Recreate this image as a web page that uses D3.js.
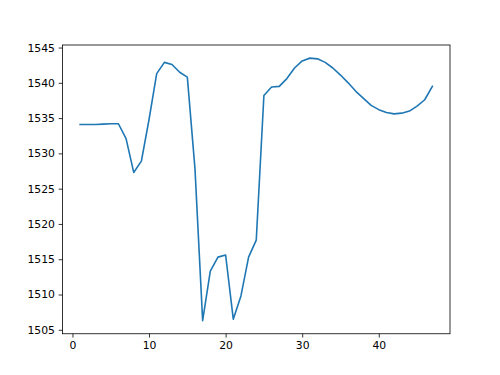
<!DOCTYPE html>
<html>
<head>
<meta charset="utf-8">
<script src="https://cdn.jsdelivr.net/npm/d3@7"></script>
<style>
  body { margin: 0; background: #fff; }
  svg text { font-family: "DejaVu Sans", sans-serif; font-size: 10.8px; fill: #000; }
</style>
</head>
<body>
<script>
// values, x = 1..47
var xs = d3.range(1, 48);
var values = [
  1534.1, 1534.1, 1534.1, 1534.15, 1534.2, 1534.2, 1532.1, 1527.3, 1528.9, 1534.8,
  1541.3, 1542.9, 1542.6, 1541.5, 1540.8, 1527.8, 1506.3, 1513.3, 1515.3, 1515.6,
  1506.5, 1509.8, 1515.3, 1517.7, 1538.2, 1539.4, 1539.5, 1540.6, 1542.1, 1543.1,
  1543.5, 1543.4, 1542.9, 1542.1, 1541.1, 1540.0, 1538.8, 1537.8, 1536.8, 1536.2,
  1535.8, 1535.6, 1535.7, 1536.0, 1536.7, 1537.6, 1539.5
];
var xTicks = [0, 10, 20, 30, 40];
var yTicks = [1505, 1510, 1515, 1520, 1525, 1530, 1535, 1540, 1545];

var w = 500, h = 375;
var margin = {top: 45, right: 50, bottom: 41.25, left: 62.5};
var iw = w - margin.left - margin.right;
var ih = h - margin.top - margin.bottom;

var data = xs.map(function(x, i) { return {x: x, y: values[i]}; });

// matplotlib style 5% padding
function pad(ext) {
  var d = (ext[1] - ext[0]) * 0.05;
  return [ext[0] - d, ext[1] + d];
}

var xScale = d3.scaleLinear().domain(pad(d3.extent(xs))).range([0, iw]);
var yScale = d3.scaleLinear().domain(pad(d3.extent(values))).range([ih, 0]);

var svg = d3.select("body").append("svg")
    .attr("width", w)
    .attr("height", h)
  .append("g")
    .attr("transform", "translate(" + margin.left + "," + margin.top + ")");

var line = d3.line()
    .x(function(d) { return xScale(d.x); })
    .y(function(d) { return yScale(d.y); });

svg.append("path")
    .datum(data)
    .attr("fill", "none")
    .attr("stroke", "#1f77b4")
    .attr("stroke-width", 1.6)
    .attr("stroke-linejoin", "round")
    .attr("stroke-linecap", "square")
    .attr("d", line);

// x axis
var xAxis = svg.append("g")
    .attr("transform", "translate(0," + ih + ")")
    .call(d3.axisBottom(xScale).tickValues(xTicks).tickFormat(d3.format("d"))
      .tickSizeInner(3.8).tickSizeOuter(0).tickPadding(3.8));

// y axis
var yAxis = svg.append("g")
    .call(d3.axisLeft(yScale).tickValues(yTicks).tickFormat(d3.format("d"))
      .tickSizeInner(3.8).tickSizeOuter(0).tickPadding(3.8));

svg.selectAll(".domain").remove();
svg.selectAll(".tick line").attr("stroke", "#000").attr("stroke-width", 0.8);
xAxis.attr("font-size", null).attr("font-family", null);
yAxis.attr("font-size", null).attr("font-family", null);

// frame
svg.append("rect")
    .attr("width", iw)
    .attr("height", ih)
    .attr("fill", "none")
    .attr("stroke", "#000")
    .attr("stroke-width", 0.8);
</script>
</body>
</html>
